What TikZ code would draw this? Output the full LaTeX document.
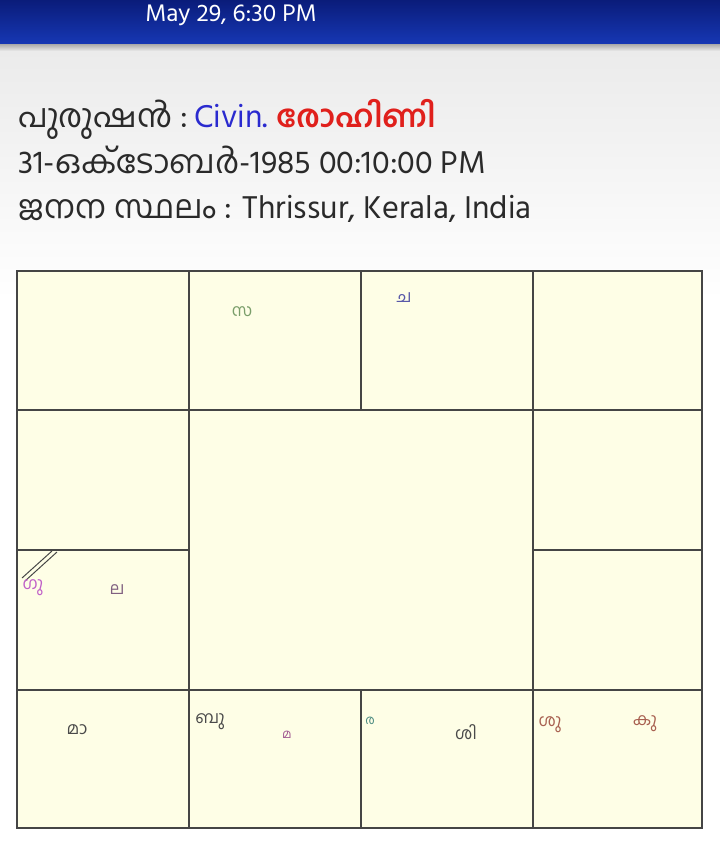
\documentclass[tikz,border=0pt]{standalone}
\usepackage{fontspec}
\setmainfont[Script=Malayalam]{Hind Kochi}
\newfontfamily\mlfont[Script=Malayalam]{Hind Kochi}
\usetikzlibrary{calc}

\definecolor{bannerdark}{HTML}{0A1C7A}
\definecolor{bannerlight}{HTML}{1A3FC4}
\definecolor{chartfill}{HTML}{FEFEE6}
\definecolor{gridgray}{HTML}{454545}
\definecolor{civinblue}{HTML}{2A2ACF}
\definecolor{starred}{HTML}{E0201C}
\definecolor{textgray}{HTML}{2A2A2A}
\definecolor{sgreen}{HTML}{7A9E6A}
\definecolor{cslate}{HTML}{5858A8}
\definecolor{gpink}{HTML}{C060C8}
\definecolor{lpurple}{HTML}{806080}
\definecolor{mpink}{HTML}{A05890}
\definecolor{rteal}{HTML}{4A8A80}
\definecolor{sbrown}{HTML}{A86050}

\begin{document}
\begin{tikzpicture}[x=0.025cm,y=-0.025cm,
  cellline/.style={draw=gridgray, line width=1.4pt},
  graha/.style={font=\fontsize{12}{14}\selectfont\mlfont, inner sep=0pt},
  headline/.style={anchor=base west, inner sep=0pt, text=textgray,
    font=\fontsize{23}{27}\selectfont}]

  \useasboundingbox (0,0) rectangle (720,853);

  % page and top banner
  \fill[top color=black!8, bottom color=white] (0,45) rectangle (720,300);
  \fill[white] (0,300) rectangle (720,853);
  \fill[top color=bannerdark, bottom color=bannerlight!80!bannerdark] (0,0) rectangle (720,45);
  \fill[top color=black!30, bottom color=black!8] (0,45) rectangle (720,51);
  \node[anchor=base west, inner sep=0pt, text=white,
    font=\fontsize{17.5}{20}\selectfont] (date) at (145,22) {May 29, 6:30 PM};

  % header lines
  \node[headline] (who) at (18,128) {പുരുഷൻ :};
  \node[headline, text=civinblue, anchor=base west] (name) at ($(who.base east)+(6,0)$) {Civin.};
  \node[headline, text=starred, font=\fontsize{22}{26}\selectfont\bfseries, anchor=base west]
    (star) at ($(name.base east)+(8,0)$) {രോഹിണി};
  \node[headline] (dob) at (18,174) {31-ഒക്ടോബർ-1985 00:10:00 PM};
  \node[headline] (place) at (18,219) {ജനന സ്ഥലം : Thrissur, Kerala, India};

  % chart grid
  \coordinate (nw) at (17,271);
  \coordinate (se) at (702,828);
  \fill[chartfill] (nw) rectangle (se);
  \draw[cellline] (nw) rectangle (se);
  \foreach \x in {189,361,533} {
    \draw[cellline] (\x,271) -- (\x,410);
    \draw[cellline] (\x,690) -- (\x,828);
  }
  \foreach \y in {410,690} \draw[cellline] (17,\y) -- (702,\y);
  \draw[cellline] (189,410) -- (189,690);
  \draw[cellline] (533,410) -- (533,690);
  \draw[cellline] (17,550) -- (189,550);
  \draw[cellline] (533,550) -- (702,550);

  % double stroke in lagna cell
  \draw[gridgray, line width=0.7pt] (22,578) -- (52,551);
  \draw[gridgray, line width=0.7pt] (25,581) -- (57,552);

  % grahas
  \node[graha, text=sgreen] (sa) at (242,312) {സ};
  \node[graha, text=cslate] (ca) at (404,298) {ച};
  \node[graha, text=gpink] (gu) at (33,588) {ഗു};
  \node[graha, text=lpurple] (la) at (117,590) {ല};
  \node[graha, text=textgray!85] (maa) at (77,730) {മാ};
  \node[graha, text=textgray!85] (bu) at (210,722) {ബു};
  \node[graha, text=mpink, font=\fontsize{9}{11}\selectfont\mlfont] (ma) at (287,735) {മ};
  \node[graha, text=rteal, font=\fontsize{9}{11}\selectfont\mlfont] (ra) at (370,721) {ര};
  \node[graha, text=textgray!85] (si) at (466,732) {ശി};
  \node[graha, text=sbrown] (su) at (550,725) {ശു};
  \node[graha, text=sbrown] (ku) at (645,724) {കു};

\end{tikzpicture}
\end{document}
